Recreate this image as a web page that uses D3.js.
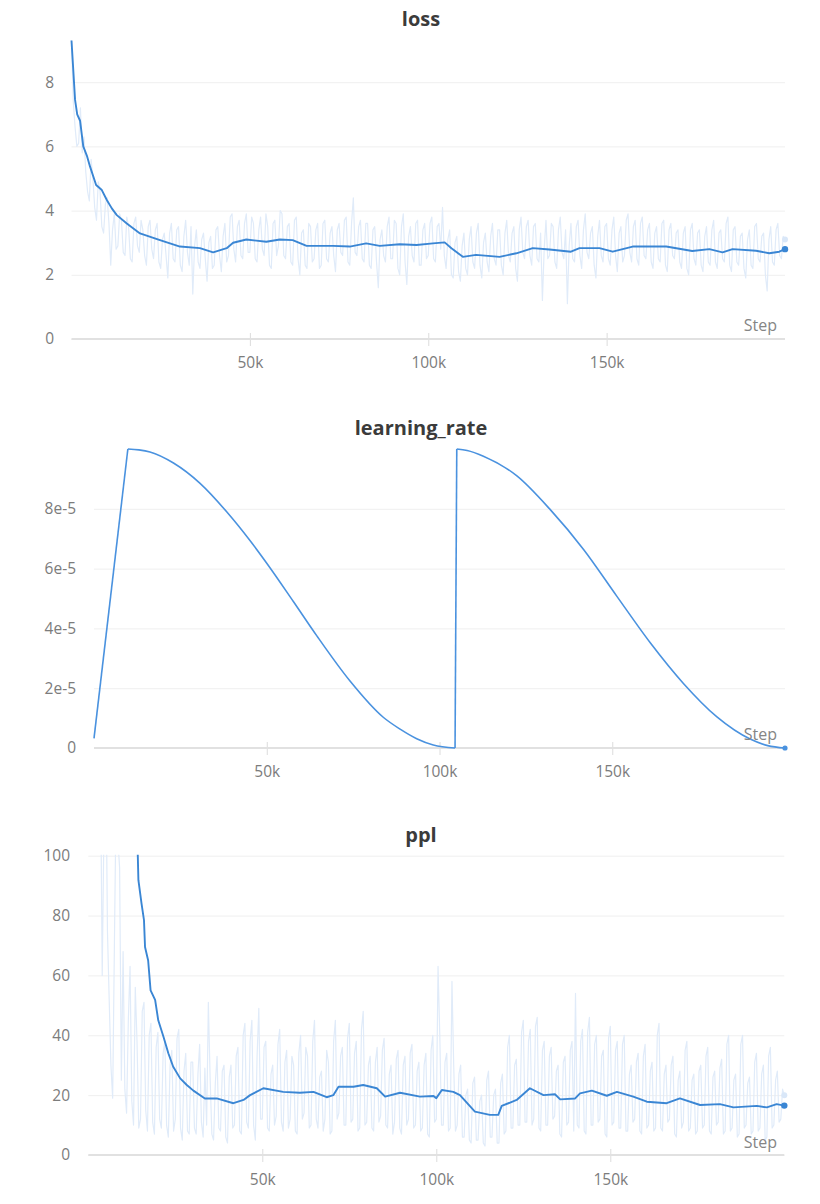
<!DOCTYPE html>
<html>
<head>
<meta charset="utf-8">
<script src="https://cdn.jsdelivr.net/npm/d3@7"></script>
<style>
  html, body { margin: 0; padding: 0; background: #ffffff; }
  svg { display: block; font-family: "Open Sans", "Noto Sans", sans-serif; }
</style>
</head>
<body>
<svg id="chart" width="820" height="1204"></svg>
<script>
// ---- data ----------------------------------------------------------------
// raw series are logged every 500 steps, 0 .. 200k
const rawSteps = d3.range(0, 200001, 500);

const lossRaw = [
  9.3, 7.4, 6.6, 6.0, 6.1, 7.2, 5.8, 6.3, 5.2, 4.6, 4.3, 5.6, 5.0, 4.1, 3.7, 4.9, 4.6, 3.5, 3.3, 4.2,
  4.4, 3.6, 2.3, 3.4, 3.9, 2.8, 2.9, 3.9, 3.7, 2.7, 2.6, 3.8, 3.5, 2.5, 2.4, 3.6, 3.8, 2.9, 2.7, 3.7,
  3.4, 2.6, 2.3, 3.5, 3.7, 2.8, 2.5, 3.4, 3.6, 2.4, 2.2, 3.1, 3.3, 2.6, 1.9, 3.3, 3.6, 2.5, 2.4, 3.4,
  3.5, 2.3, 2.1, 3.2, 3.7, 2.7, 2.3, 3.5, 1.4, 2.9, 3.4, 2.4, 2.2, 3.1, 3.3, 2.5, 1.8, 3.0, 3.2, 2.2,
  2.3, 3.4, 3.5, 2.6, 2.1, 3.2, 3.6, 2.4, 2.6, 3.8, 3.9, 2.8, 2.4, 3.5, 3.7, 2.6, 2.5, 3.6, 3.9, 2.7,
  2.7, 3.8, 3.6, 2.5, 2.4, 3.4, 3.8, 2.8, 2.6, 3.9, 3.5, 2.3, 2.2, 3.6, 3.7, 2.6, 2.9, 4.0, 3.9, 2.6,
  2.5, 3.5, 3.6, 2.4, 2.3, 3.7, 3.8, 2.5, 2.0, 3.3, 3.4, 2.3, 2.2, 3.6, 3.5, 2.4, 2.5, 3.4, 3.6, 2.2,
  2.3, 3.6, 3.7, 2.5, 2.4, 3.3, 3.5, 2.6, 2.1, 3.4, 3.6, 2.7, 2.6, 3.7, 3.8, 2.4, 2.3, 3.6, 4.4, 2.7,
  2.6, 3.5, 3.7, 2.5, 2.4, 3.6, 3.6, 2.3, 2.2, 3.4, 3.5, 2.4, 1.6, 3.1, 3.4, 2.6, 2.4, 3.5, 3.8, 2.5,
  2.5, 3.7, 3.6, 2.2, 2.0, 3.5, 3.9, 2.4, 1.7, 3.2, 3.5, 2.6, 2.4, 3.6, 3.7, 2.3, 2.3, 3.4, 3.6, 2.5,
  2.6, 3.6, 3.8, 2.5, 2.4, 3.5, 3.6, 2.8, 4.1, 2.6, 2.2, 3.1, 3.4, 2.0, 1.9, 3.0, 3.2, 2.1, 1.8, 2.9,
  3.3, 2.2, 2.0, 3.1, 3.5, 2.4, 2.2, 3.3, 3.6, 2.3, 1.9, 3.0, 3.3, 2.4, 2.1, 3.2, 3.6, 2.5, 2.3, 3.4,
  3.4, 2.3, 2.0, 3.3, 3.7, 2.6, 2.4, 3.3, 3.5, 2.2, 1.8, 3.4, 3.8, 2.7, 2.5, 3.5, 3.7, 2.6, 2.3, 3.5,
  3.6, 2.5, 2.4, 3.3, 1.2, 2.8, 3.7, 2.5, 2.6, 3.6, 3.5, 2.4, 2.2, 3.4, 3.8, 2.7, 2.5, 3.4, 1.1, 2.9,
  3.6, 2.5, 2.4, 3.5, 3.7, 2.6, 2.2, 3.4, 3.9, 2.7, 2.5, 3.3, 3.5, 2.3, 1.9, 3.2, 3.7, 2.6, 2.4, 3.5,
  3.6, 2.5, 2.3, 3.4, 3.8, 2.6, 2.1, 3.3, 3.5, 2.4, 2.6, 3.7, 3.9, 2.7, 2.4, 3.5, 3.7, 2.5, 2.3, 3.6,
  3.8, 2.6, 2.5, 3.4, 3.6, 2.4, 2.2, 3.3, 3.5, 2.5, 2.4, 3.6, 3.7, 2.3, 2.1, 3.4, 3.6, 2.6, 2.5, 3.3,
  3.4, 2.4, 2.2, 3.3, 3.5, 2.2, 2.0, 3.4, 3.6, 2.5, 2.3, 3.3, 3.4, 2.3, 2.1, 3.2, 3.5, 2.4, 2.3, 3.4,
  3.7, 2.4, 2.2, 3.3, 3.4, 2.5, 2.4, 3.6, 3.8, 2.3, 2.1, 3.4, 3.5, 2.4, 2.3, 3.2, 3.3, 2.2, 1.9, 3.1,
  3.4, 2.3, 2.2, 3.5, 3.6, 2.5, 2.4, 3.2, 3.3, 2.0, 1.5, 3.1, 3.5, 2.4, 2.3, 3.4, 3.6, 2.6, 2.5, 3.2,
  3.1
];

// smoothed loss as [step, value]
const lossSmooth = [
  [0, 9.3], [1000, 7.45], [1600, 7.0], [2400, 6.8], [3300, 6.0], [4400, 5.68],
  [5200, 5.37], [6900, 4.8], [8500, 4.64], [9900, 4.33], [11300, 4.07],
  [12700, 3.86], [15500, 3.6], [19200, 3.29], [24800, 3.08], [30400, 2.88],
  [36000, 2.83], [39700, 2.7], [43500, 2.83], [45300, 3.0], [49000, 3.1],
  [54600, 3.03], [58400, 3.1], [62000, 3.08], [65900, 2.9], [73300, 2.9],
  [78000, 2.88], [82600, 2.98], [86400, 2.9], [92000, 2.95], [96700, 2.93],
  [101300, 2.98], [104600, 3.01], [106500, 2.83], [109700, 2.56], [113400, 2.62],
  [120000, 2.56], [124700, 2.67], [129300, 2.83], [134000, 2.79], [140000, 2.72],
  [142400, 2.83], [148000, 2.83], [151700, 2.72], [157300, 2.88], [166700, 2.88],
  [174000, 2.74], [178800, 2.8], [182500, 2.7], [185300, 2.8], [191900, 2.75],
  [195600, 2.67], [198400, 2.72], [200000, 2.8]
];

// learning rate schedule as [step, value]; pieces split where the shape breaks
const lrWarmup = [[0, 0.32e-5], [9800, 10e-5]];
const lrDecay1 = [
  [9800, 10e-5], [13000, 9.97e-5], [16200, 9.9e-5], [23000, 9.53e-5], [30700, 8.85e-5],
  [38400, 7.9e-5], [45200, 6.93e-5], [50000, 6.18e-5], [57700, 4.9e-5],
  [64500, 3.75e-5], [74100, 2.24e-5], [83800, 1.02e-5], [88600, 0.63e-5],
  [93400, 0.31e-5], [98200, 0.1e-5], [104500, 0.0e-5]
];
const lrRestart = [[104500, 0.0e-5], [105000, 10e-5]];
const lrDecay2 = [
  [105000, 10e-5], [108000, 9.95e-5], [112700, 9.76e-5], [122400, 9.1e-5], [132000, 7.98e-5],
  [141700, 6.64e-5], [151300, 5.08e-5], [161000, 3.52e-5], [170600, 2.16e-5],
  [180300, 1.04e-5], [189900, 0.3e-5], [195000, 0.08e-5], [200000, 0.0e-5]
];

const pplRaw = [
  4000, 2500, 1500, 900, 600, 400, 240, 130, 60, 110, 140, 75, 52, 30, 19, 70, 120, 105, 96, 25,
  68, 22, 14, 45, 63, 18, 10, 56, 38, 9, 12, 48, 51, 15, 8, 40, 44, 11, 7, 36,
  41, 12, 9, 34, 38, 10, 6, 30, 35, 8, 12, 39, 42, 9, 5, 28, 34, 8, 7, 31,
  31, 9, 7, 27, 37, 11, 6, 29, 10, 51, 26, 7, 5, 24, 33, 9, 8, 28, 30, 6,
  4, 26, 30, 9, 10, 33, 36, 8, 7, 40, 44, 11, 9, 38, 45, 10, 5, 33, 49, 12,
  12, 36, 38, 9, 8, 27, 30, 10, 13, 37, 42, 11, 8, 31, 35, 9, 12, 33, 30, 8,
  7, 34, 40, 12, 14, 36, 33, 9, 10, 38, 45, 12, 9, 26, 28, 8, 12, 35, 31, 7,
  8, 38, 45, 12, 14, 33, 36, 10, 10, 39, 44, 11, 12, 34, 38, 8, 9, 42, 48, 10,
  11, 30, 33, 9, 8, 31, 36, 11, 13, 35, 39, 10, 9, 27, 30, 7, 11, 32, 35, 9,
  7, 30, 33, 10, 12, 34, 37, 9, 10, 28, 31, 8, 9, 30, 34, 7, 6, 35, 40, 11,
  12, 63, 40, 10, 10, 31, 34, 8, 9, 58, 30, 8, 10, 27, 30, 6, 6, 20, 22, 5,
  4, 24, 26, 5, 5, 18, 20, 4, 3, 25, 28, 6, 6, 20, 22, 4, 4, 24, 27, 7,
  8, 36, 40, 9, 9, 30, 32, 10, 10, 41, 45, 11, 11, 38, 42, 10, 12, 43, 46, 9,
  8, 35, 38, 10, 10, 33, 36, 12, 13, 28, 30, 7, 6, 31, 33, 10, 11, 35, 38, 8,
  54, 10, 9, 38, 42, 8, 7, 41, 46, 10, 10, 37, 40, 11, 12, 33, 35, 7, 6, 39,
  43, 10, 11, 35, 38, 9, 9, 37, 40, 8, 8, 27, 30, 11, 12, 31, 34, 8, 7, 33,
  37, 9, 10, 28, 31, 8, 9, 40, 44, 9, 8, 27, 30, 11, 12, 30, 33, 7, 6, 25,
  28, 9, 11, 35, 38, 8, 9, 25, 27, 7, 8, 28, 30, 9, 10, 33, 36, 8, 7, 26,
  28, 10, 11, 29, 32, 7, 8, 37, 40, 8, 9, 25, 27, 6, 7, 37, 40, 9, 10, 24,
  26, 7, 8, 31, 34, 8, 9, 27, 30, 5, 6, 33, 36, 9, 10, 25, 28, 11, 12, 22,
  20
];

const pplSmooth = [
  [0, 2500], [6000, 600], [10000, 220], [13000, 125], [14200, 101], [14400, 91.8],
  [15300, 84], [16000, 78.5], [16300, 69.5], [17200, 65], [17900, 55], [19200, 51.8],
  [20100, 45], [21600, 39.5], [23000, 34], [24400, 29.5], [26400, 25.6], [28300, 23.4],
  [30200, 21.5], [33500, 18.9], [36900, 18.9], [41700, 17.3], [44600, 18.4], [46500, 20],
  [50300, 22.3], [56000, 21.1], [60800, 20.8], [64700, 21.1], [68500, 19.3], [70400, 20],
  [71900, 22.8], [76200, 22.8], [79000, 23.4], [82900, 22.3], [85300, 19.5], [89600, 20.8],
  [95300, 19.5], [99200, 19.7], [100000, 19.0], [101600, 21.7], [104900, 21.1], [106800, 20],
  [111100, 14.5], [115400, 13.4], [117800, 13.4], [118800, 16.4], [123100, 18.4], [126900, 22.3],
  [130800, 20], [134100, 20.3], [135600, 18.6], [139900, 18.9], [141300, 20.6], [144700, 21.5],
  [149000, 19.8], [151900, 21.1], [156600, 19.5], [160500, 17.8], [166200, 17.3], [170000, 18.9],
  [175800, 16.7], [181500, 17], [185400, 15.9], [192100, 16.4], [195000, 15.9], [197800, 17],
  [200000, 16.5]
];

const xTickValues = [50000, 100000, 150000];
const lossYTicks = [0, 2, 4, 6, 8];
const lrYTicks = [0, 2e-5, 4e-5, 6e-5, 8e-5];
const pplYTicks = [0, 20, 40, 60, 80, 100];

// ---- drawing -------------------------------------------------------------
const svg = d3.select("#chart");
const LINE = "#3a86d4";
const RAW = "#e0ebf9";

function panel(cfg) {
  const g = svg.append("g");
  const x = d3.scaleLinear().domain([0, 200000]).range([cfg.left, cfg.right]);
  const y = d3.scaleLinear().domain([0, cfg.yMax]).range([cfg.zeroY, cfg.topY]);

  // title
  g.append("text")
    .attr("x", 421).attr("y", cfg.titleY)
    .attr("text-anchor", "middle")
    .attr("font-size", 20).attr("font-weight", 700)
    .attr("fill", "#3b3b3b")
    .text(cfg.title);

  // horizontal grid + y labels
  const yAxis = d3.axisLeft(y)
    .tickValues(cfg.yTicks)
    .tickFormat(cfg.yFormat)
    .tickSize(-(cfg.right - cfg.left))
    .tickPadding(cfg.left - cfg.yLabelX);
  const ya = g.append("g").attr("transform", `translate(${cfg.left},0)`).call(yAxis);
  ya.select(".domain").remove();
  ya.selectAll(".tick line").attr("stroke", "#efefef").attr("stroke-width", 1);
  ya.selectAll(".tick text")
    .attr("font-size", 15.5).attr("fill", "#7c7c7c")
    .attr("font-family", "'Open Sans', sans-serif");

  // x axis: baseline, tick marks and labels
  const xAxis = d3.axisBottom(x)
    .tickValues(xTickValues)
    .tickFormat(d => d / 1000 + "k")
    .tickSizeInner(13).tickSizeOuter(0);
  const xa = g.append("g").attr("transform", `translate(0,${cfg.zeroY - 6})`).call(xAxis);
  xa.select(".domain").remove();
  xa.selectAll(".tick line").attr("stroke", "#dcdcdc").attr("stroke-width", 1);
  xa.selectAll(".tick text")
    .attr("y", cfg.tickLabelY - (cfg.zeroY - 6)).attr("dy", 0)
    .attr("font-size", 15.5).attr("fill", "#7c7c7c")
    .attr("font-family", "'Open Sans', sans-serif");
  g.append("line")
    .attr("x1", cfg.left).attr("x2", cfg.right)
    .attr("y1", cfg.zeroY).attr("y2", cfg.zeroY)
    .attr("stroke", "#e1e1e1").attr("stroke-width", 2);

  // plot clip
  const clipId = "clip-" + cfg.title;
  svg.append("clipPath").attr("id", clipId)
    .append("rect")
    .attr("x", cfg.left - 2).attr("y", cfg.topY - 1)
    .attr("width", cfg.right - cfg.left + 6)
    .attr("height", cfg.zeroY - cfg.topY + 3);
  const plot = g.append("g").attr("clip-path", `url(#${clipId})`);

  const line = d3.line().x(d => x(d[0])).y(d => y(d[1]));

  if (cfg.raw) {
    const rawPts = cfg.raw.map((v, i) => [rawSteps[i], v]);
    plot.append("path").datum(rawPts)
      .attr("d", line).attr("fill", "none")
      .attr("stroke", RAW).attr("stroke-width", 1.2)
      .attr("stroke-linejoin", "round");
  }

  (cfg.pieces || []).forEach(p => {
    const ln = d3.line().x(d => x(d[0])).y(d => y(d[1]))
      .curve(p.length > 2 ? cfg.curve : d3.curveLinear);
    plot.append("path").datum(p)
      .attr("d", ln).attr("fill", "none")
      .attr("stroke", cfg.color).attr("stroke-width", cfg.width)
      .attr("stroke-linejoin", "round");
  });

  // step label
  g.append("text")
    .attr("x", 777).attr("y", cfg.stepY)
    .attr("text-anchor", "end")
    .attr("font-size", 16).attr("fill", "#858585")
    .text("Step");

  // end markers
  if (cfg.raw) {
    const last = cfg.raw[cfg.raw.length - 1];
    g.append("circle")
      .attr("cx", x(rawSteps[rawSteps.length - 1])).attr("cy", y(last))
      .attr("r", 3).attr("fill", "#d9e7f8");
  }
  const lastPiece = cfg.pieces[cfg.pieces.length - 1];
  const end = lastPiece[lastPiece.length - 1];
  g.append("circle")
    .attr("cx", x(end[0])).attr("cy", y(end[1]))
    .attr("r", cfg.dotR).attr("fill", cfg.color);
}

panel({
  title: "loss", titleY: 26,
  left: 71.5, right: 785, zeroY: 339, topY: 40.5, yMax: 9.3,
  yTicks: lossYTicks, yFormat: d => d, yLabelX: 54,
  tickLabelY: 368, stepY: 331,
  raw: lossRaw, pieces: [lossSmooth], curve: d3.curveLinear,
  color: LINE, width: 1.9, dotR: 3.2
});

panel({
  title: "learning_rate", titleY: 435,
  left: 94, right: 785, zeroY: 748, topY: 449, yMax: 1e-4,
  yTicks: lrYTicks, yFormat: d => d === 0 ? "0" : d3.format(".0e")(d), yLabelX: 76,
  tickLabelY: 777, stepY: 740,
  raw: null, pieces: [lrWarmup, lrDecay1, lrRestart, lrDecay2], curve: d3.curveMonotoneX,
  color: "#4a92df", width: 1.6, dotR: 2.6
});

panel({
  title: "ppl", titleY: 842,
  left: 88.3, right: 784.3, zeroY: 1155, topY: 855.7, yMax: 100,
  yTicks: pplYTicks, yFormat: d => d, yLabelX: 70,
  tickLabelY: 1185, stepY: 1148,
  raw: pplRaw, pieces: [pplSmooth], curve: d3.curveLinear,
  color: LINE, width: 1.9, dotR: 3.2
});
</script>
</body>
</html>
